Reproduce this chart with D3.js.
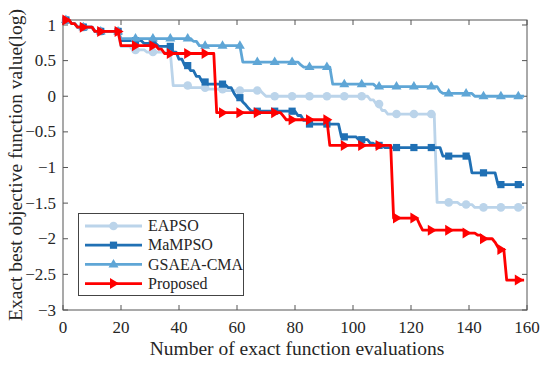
<!DOCTYPE html>
<html><head><meta charset="utf-8">
<script src="https://cdn.jsdelivr.net/npm/d3@7"></script>
<style>
body{margin:0;background:#fff}
svg{display:block}
text{font-family:"Liberation Serif","Times New Roman",serif;fill:#262626}
</style>
</head><body>
<svg id="c" width="550" height="366"></svg>
<script>
// ---- data ----
const nEvals = 159;
const seriesNames = ["EAPSO", "MaMPSO", "GSAEA-CMA", "Proposed"];
// [first evaluation, best value(log)] — value holds until the next entry
const eapsoSteps = [[1,1.07],[3,1.02],[5,0.97],[11,0.91],[20,0.70],[24,0.65],[29,0.62],[38,0.15],[44,0.12],[50,0.10],[56,0.08],[69,0.04],[70,0.0],[106,-0.05],[108,-0.11],[110,-0.2],[112,-0.25],[129,-1.49],[137,-1.52],[142,-1.56]];
const mampsoSteps = [[1,1.07],[3,1.02],[5,0.97],[11,0.91],[20,0.78],[28,0.74],[33,0.70],[38,0.62],[40,0.52],[42,0.43],[44,0.36],[46,0.28],[48,0.2],[50,0.17],[56,0.16],[57,0.12],[59,0.04],[60,-0.02],[62,-0.08],[63,-0.12],[64,-0.17],[65,-0.21],[81,-0.27],[83,-0.34],[85,-0.39],[96,-0.57],[102,-0.61],[106,-0.66],[108,-0.69],[111,-0.72],[131,-0.84],[141,-1.075],[150,-1.24]];
const gsaeaSteps = [[1,1.07],[3,1.02],[5,0.97],[11,0.91],[20,0.81],[45,0.77],[47,0.71],[62,0.48],[82,0.44],[83,0.41],[93,0.17],[108,0.135],[130,0.07],[131,0.04],[142,0.0]];
const proposedSteps = [[1,1.07],[3,1.02],[5,0.97],[11,0.91],[20,0.71],[33,0.66],[35,0.60],[53,-0.23],[76,-0.28],[77,-0.33],[92,-0.69],[114,-1.71],[123,-1.8],[124,-1.88],[139,-1.92],[143,-1.95],[145,-2.0],[149,-2.05],[150,-2.12],[151,-2.15],[153,-2.58]];
const xTicks = [0,20,40,60,80,100,120,140,160];
const yTicks = [-3,-2.5,-2,-1.5,-1,-0.5,0,0.5,1];
const markerEvery = 6;

// ---- styles ----
const colors = ["#bbd4ea", "#2070b4", "#5fa6d6", "#ff0000"];
const markers = ["circle", "square", "triangle", "right"];

const svg = d3.select("#c");
const L = 63, R = 527, T = 20, B = 310;
const x = d3.scaleLinear().domain([0,160]).range([L,R]);
const y = d3.scaleLinear().domain([-3,1.07]).range([B,T]);

function expand(steps){
  const out = []; let k = 0;
  for (let e = 1; e <= nEvals; e++){
    while (k+1 < steps.length && steps[k+1][0] <= e) k++;
    out.push([e, steps[k][1]]);
  }
  return out;
}
const allSteps = [eapsoSteps, mampsoSteps, gsaeaSteps, proposedSteps];
const series = allSteps.map(expand);

function drawMarker(g, type, cx, cy, col){
  if (type === "circle") g.append("circle").attr("cx",cx).attr("cy",cy).attr("r",4.3).attr("fill",col);
  else if (type === "square") g.append("rect").attr("x",cx-3.6).attr("y",cy-3.6).attr("width",7.2).attr("height",7.2).attr("fill",col);
  else if (type === "triangle") g.append("path").attr("d",`M${cx},${cy-5.5}L${cx+5},${cy+3}L${cx-5},${cy+3}Z`).attr("fill",col);
  else g.append("path").attr("d",`M${cx+5.5},${cy}L${cx-3.5},${cy-5.5}L${cx-3.5},${cy+5.5}Z`).attr("fill",col);
}

// axes box
const ax = svg.append("g");
ax.append("rect").attr("x",L).attr("y",T).attr("width",R-L).attr("height",B-T).attr("fill","none").attr("stroke","#555").attr("stroke-width",1);
const tl = 5;
xTicks.forEach(v=>{
  ax.append("line").attr("x1",x(v)).attr("x2",x(v)).attr("y1",B).attr("y2",B-tl).attr("stroke","#555");
  ax.append("line").attr("x1",x(v)).attr("x2",x(v)).attr("y1",T).attr("y2",T+tl).attr("stroke","#555");
  ax.append("text").attr("x",x(v)).attr("y",333).attr("text-anchor","middle").attr("font-size",17).text(d3.format("d")(v));
});
yTicks.forEach(v=>{
  ax.append("line").attr("x1",L).attr("x2",L+tl).attr("y1",y(v)).attr("y2",y(v)).attr("stroke","#555");
  ax.append("line").attr("x1",R).attr("x2",R-tl).attr("y1",y(v)).attr("y2",y(v)).attr("stroke","#555");
  ax.append("text").attr("x",56).attr("y",y(v)).attr("dy","0.33em").attr("text-anchor","end").attr("font-size",17).text(String(v).replace("-","\u2212"));
});
svg.append("text").attr("x",(L+R)/2 + 2).attr("y",355).attr("text-anchor","middle").attr("font-size",19.5).text("Number of exact function evaluations");
svg.append("text").attr("transform",`translate(22,${(T+B)/2}) rotate(-90)`).attr("text-anchor","middle").attr("font-size",19.5).text("Exact best objective function value(log)");

// lines
const line = d3.line().x(d=>x(d[0])).y(d=>y(d[1]));
series.forEach((s,i)=>{
  const g = svg.append("g");
  g.append("path").attr("d",line(s)).attr("fill","none").attr("stroke",colors[i]).attr("stroke-width",2.8).attr("stroke-linejoin","round");
  s.forEach((d,j)=>{ if (j % markerEvery === 0) drawMarker(g, markers[i], x(d[0]), y(d[1]), colors[i]); });
});

// legend
const lg = svg.append("g");
lg.append("rect").attr("x",78.5).attr("y",213.5).attr("width",165).attr("height",82).attr("fill","#fff").attr("stroke","#444").attr("stroke-width",1);
seriesNames.forEach((n,i)=>{
  const cy = 226 + i*19.2;
  lg.append("line").attr("x1",85).attr("x2",142).attr("y1",cy).attr("y2",cy).attr("stroke",colors[i]).attr("stroke-width",2.8);
  drawMarker(lg, markers[i], 113.5, cy, colors[i]);
  lg.append("text").attr("x",148).attr("y",cy).attr("dy","0.33em").attr("font-size",16).text(n);
});
</script>
</body></html>
